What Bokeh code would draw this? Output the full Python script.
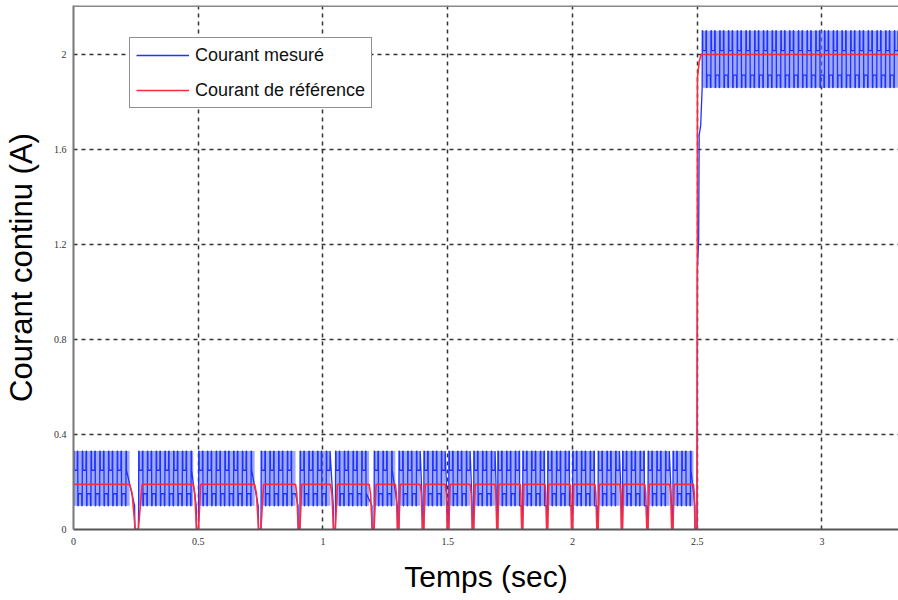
import numpy as np
from math import pi
from bokeh.plotting import figure
from bokeh.models import Span, FixedTicker
from bokeh.embed import file_html
from bokeh.resources import INLINE

# ---------------- data ----------------
# reference-current dips (start of fall, back at level)
dip_start = [0.225, 0.480, 0.726, 0.890, 1.030, 1.185, 1.290, 1.390, 1.490, 1.590,
             1.690, 1.790, 1.890, 1.990, 2.090, 2.190, 2.290, 2.390, 2.485]
dip_end = [0.275, 0.510, 0.762, 0.915, 1.058, 1.213, 1.310, 1.410, 1.510, 1.610,
           1.705, 1.805, 1.905, 2.005, 2.108, 2.205, 2.308, 2.408, 2.500]
ref_low_level = 0.19
ref_high_level = 2.0
t_end = 3.31
meas_low_band = [0.10, 0.33]
meas_high_band = [1.86, 2.10]
meas_high_start = 2.52
# measured current during the step
meas_step_t = [2.499, 2.501, 2.506, 2.508, 2.514, 2.520]
meas_step_v = [0.00, 1.10, 1.22, 1.66, 1.70, 1.86]
# reference current during the step
ref_step_t = [2.500, 2.501, 2.508, 2.516]
ref_step_v = [0.00, 1.90, 1.97, 2.00]
# one ripple cycle of the measured current (phase, fraction of band)
cycle_period = 0.035
cycle_phase = [0.0, 0.012, 0.057, 0.069, 0.429, 0.441, 0.489, 0.500, 0.543, 0.554, 0.943, 0.954, 1.0]
cycle_level = [0.0, 1.0, 1.0, 0.65, 0.65, 1.0, 1.0, 0.0, 0.0, 0.22, 0.22, 0.0, 0.0]

x_ticks = [0, 0.5, 1, 1.5, 2, 2.5, 3]
y_ticks = [0, 0.4, 0.8, 1.2, 1.6, 2]
series_names = ["Courant mesuré", "Courant de référence"]
x_title = "Temps (sec)"
y_title = "Courant continu (A)"
x_lim = (0, 3.307)
y_lim = (0, 2.206)


# ---------------- build series ----------------
def tile(t0, t1, lo, hi):
    ts, vs = [], []
    k = 0
    while True:
        base = t0 + k * cycle_period
        if base >= t1:
            break
        for ph, lv in zip(cycle_phase, cycle_level):
            t = base + ph * cycle_period
            if t > t1:
                break
            ts.append(t)
            vs.append(lo + lv * (hi - lo))
        k += 1
    return ts, vs


mt, mv = [], []
rt, rv = [0.0], [ref_low_level]
seg_left, seg_right = [], []
seg_lo, seg_hi = [], []
s = 0.0
n = len(dip_start)
for i, (ds, de) in enumerate(zip(dip_start, dip_end)):
    w = de - ds
    ts, vs = tile(s, ds, meas_low_band[0], meas_low_band[1])
    mt += ts
    mv += vs
    seg_left.append(s)
    seg_right.append(ds)
    seg_lo.append(meas_low_band[0])
    seg_hi.append(meas_low_band[1])
    mt += [ds + 0.40 * w, ds + 0.42 * w]
    mv += [meas_low_band[0], 0.0]
    rt += [ds, ds + 0.2 * w, ds + 0.45 * w]
    rv += [ref_low_level, ref_low_level * 0.8, 0.0]
    if i < n - 1:
        mt += [ds + 0.70 * w]
        mv += [0.0]
        rt += [ds + 0.7 * w, de]
        rv += [0.0, ref_low_level]
        s = ds + 0.72 * w
mt += meas_step_t
mv += meas_step_v
ts, vs = tile(meas_high_start, t_end, meas_high_band[0], meas_high_band[1])
mt += ts
mv += vs
seg_left.append(meas_high_start)
seg_right.append(t_end)
seg_lo.append(meas_high_band[0])
seg_hi.append(meas_high_band[1])
rt += ref_step_t + [t_end]
rv += ref_step_v + [ref_high_level]

# ---------------- figure ----------------
p = figure(width=898, height=600, output_backend="svg", toolbar_location=None,
           x_range=x_lim, y_range=y_lim,
           min_border_left=70, min_border_right=0, min_border_top=5, min_border_bottom=71)
p.outline_line_color = None
p.background_fill_color = "white"
p.border_fill_color = "white"

for ax in (p.xaxis[0], p.yaxis[0]):
    ax.major_tick_line_color = None
    ax.minor_tick_line_color = None
    ax.major_tick_out = 0
    ax.major_tick_in = 0
    ax.minor_tick_out = 0
    ax.minor_tick_in = 0
    ax.major_label_text_font = "Liberation Serif"
    ax.major_label_text_font_size = "10px"
    ax.major_label_text_color = "#333333"
    ax.axis_line_width = 2
    ax.axis_label_text_font = "Liberation Sans"
    ax.axis_label_text_font_style = "normal"
    ax.axis_label_text_color = "black"
p.xaxis.ticker = FixedTicker(ticks=x_ticks)
p.yaxis.ticker = FixedTicker(ticks=y_ticks)
p.xaxis.major_label_standoff = 8
p.yaxis.major_label_standoff = 7
p.xaxis.axis_line_color = "#555555"
p.yaxis.axis_line_color = "#777777"
p.xaxis.major_label_overrides = {0: "0", 1: "1", 2: "2", 3: "3"}
p.yaxis.major_label_overrides = {0: "0", 2: "2"}
p.xaxis.axis_label = x_title
p.xaxis.axis_label_text_font_size = "30px"
p.xaxis.axis_label_standoff = 12
p.yaxis.axis_label = y_title
p.yaxis.axis_label_text_font_size = "31px"
p.yaxis.axis_label_standoff = 12

for g in (p.xgrid[0], p.ygrid[0]):
    g.grid_line_color = "#333333"
    g.grid_line_dash = "4 4"
    g.grid_line_width = 1.5
p.xgrid.ticker = FixedTicker(ticks=x_ticks)
p.ygrid.ticker = FixedTicker(ticks=y_ticks)

p.add_layout(Span(location=y_lim[1], dimension="width", line_color="#888888", line_width=3))

# light band of unresolved ripple
p.quad(left=seg_left, right=seg_right, bottom=seg_lo, top=seg_hi,
       fill_color="#5f72ff", fill_alpha=0.6, line_color=None)
p.line(mt, mv, line_color="#1f33ff", line_width=1.3, legend_label=series_names[0])
p.line(rt, rv, line_color="#ff2a3c", line_width=1.6, legend_label=series_names[1])

lg = p.legend[0]
lg.location = (56, 421)
lg.label_text_font = "Liberation Sans"
lg.label_text_font_size = "18px"
lg.label_text_color = "#111111"
lg.glyph_width = 53
lg.glyph_height = 22
lg.label_height = 22
lg.label_standoff = 6
lg.spacing = 13
lg.padding = 6
lg.margin = 0
lg.border_line_color = "#222222"
lg.border_line_width = 1.5
lg.background_fill_alpha = 1.0

open("out.html", "w").write(file_html(p, INLINE))
